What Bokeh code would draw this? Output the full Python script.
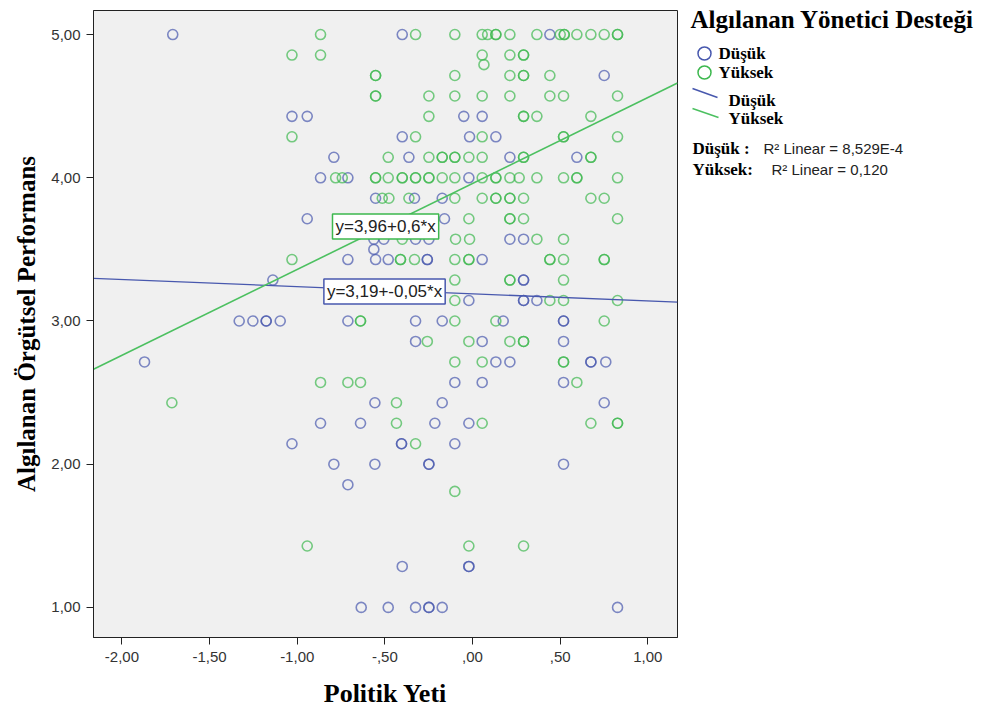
from bokeh.plotting import figure
from bokeh.models import Range1d, FixedTicker, Label
from bokeh.layouts import row
from bokeh.embed import file_html
from bokeh.resources import INLINE

# ---------------- data ----------------
dusuk_x = [-1.71, -1.03, -0.943, -0.401, -0.05, 0.055, -0.401, -0.017, -0.791, -0.363,
           -0.867, -0.711, -0.021, -0.553, -0.331, -0.173, -0.943, -0.16,
           0.441, 0.751, 0.133, 0.213, 0.595,
           -1.139, -1.331, -1.253, -1.177, -1.177, -1.097, -1.871,
           -0.563, -0.506, -0.325, -0.249, -0.563, -0.711, -0.553, -0.481, -0.258, -0.258,
           0.055, -0.021, -0.711, -0.325, -0.173, -0.325, 0.055, -0.101, 0.055,
           -0.557, -0.173, -0.867, -0.639, -0.215, -0.021,
           0.213, 0.291, 0.291, 0.291, 0.291, 0.291, 0.367, 0.175, 0.519, 0.519, 0.519,
           0.133, 0.213, 0.675, 0.675, 0.76, 0.519, 0.751,
           -1.03, -0.405, -0.405, -0.101, -0.791, -0.557, -0.249, -0.249, -0.711,
           -0.401, -0.021, -0.021, -0.635, -0.481, -0.325, -0.249, -0.249, -0.173,
           0.519, 0.827]
dusuk_y = [5.0, 4.429, 4.429, 5.0, 4.429, 4.429, 4.286, 4.286, 4.143, 4.143,
           4.0, 4.0, 4.0, 3.857, 3.857, 3.857, 3.714, 3.714,
           5.0, 4.714, 4.286, 4.143, 4.143,
           3.286, 3.0, 3.0, 3.0, 3.0, 3.0, 2.714,
           3.571, 3.571, 3.571, 3.571, 3.5, 3.429, 3.429, 3.429, 3.429, 3.429,
           3.429, 3.143, 3.0, 3.0, 3.0, 2.857, 2.857, 2.571, 2.571,
           2.429, 2.429, 2.286, 2.286, 2.286, 2.286,
           3.571, 3.571, 3.286, 3.286, 3.143, 3.143, 3.143, 3.0, 3.0, 3.0, 2.857,
           2.714, 2.714, 2.714, 2.714, 2.714, 2.571, 2.429,
           2.143, 2.143, 2.143, 2.143, 2.0, 2.0, 2.0, 2.0, 1.857,
           1.286, 1.286, 1.286, 1.0, 1.0, 1.0, 1.0, 1.0, 1.0,
           2.0, 1.0]

yuksek_x = [-1.03, -0.867, -0.325, -0.101, 0.055, -0.867, 0.055, 0.065,
            -0.553, -0.553, -0.101, -0.553, -0.553, -0.249, -0.101, 0.055,
            -0.249, -1.03, -0.325, 0.055,
            -0.481, -0.249, -0.173, -0.173, -0.101, -0.101, -0.021, 0.055,
            -0.781, -0.743, -0.553, -0.553, -0.481, -0.401, -0.401, -0.325, -0.325,
            -0.249, -0.249, -0.173, -0.101, 0.055,
            -0.515, -0.477, -0.363, -0.101, 0.055, -0.021,
            0.086, 0.133, 0.133, 0.213, 0.367, 0.50, 0.523, 0.523, 0.595, 0.675, 0.751,
            0.827, 0.827,
            0.213, 0.291, 0.291, 0.213, 0.291, 0.291, 0.441,
            0.213, 0.441, 0.519, 0.827, 0.291, 0.291, 0.367, 0.675,
            0.519, 0.519, 0.827, 0.291, 0.291, 0.675, 0.675,
            0.133, 0.133, 0.213, 0.266, 0.367, 0.519, 0.595, 0.595, 0.827,
            0.133, 0.133, 0.213, 0.213, 0.291, 0.675, 0.751,
            0.213, 0.213, 0.291, 0.827,
            -1.03, -1.715,
            -0.401, -0.097, -0.017, -0.411, -0.411, -0.331, -0.101, -0.021, -0.021,
            -0.101, -0.101, -0.639, -0.639, -0.101, -0.258, -0.021, -0.101, 0.055,
            -0.867, -0.711, -0.639, -0.434, -0.434, 0.055,
            0.367, 0.519, 0.441, 0.441, 0.519, 0.751, 0.751, 0.213, 0.213, 0.519,
            0.441, 0.519, 0.827, 0.133, 0.751, 0.213, 0.291, 0.291, 0.519, 0.519,
            0.595, 0.675, 0.827, 0.827,
            -0.325, -0.101, -0.943, -0.021, 0.291]
yuksek_y = [4.857, 5.0, 5.0, 5.0, 5.0, 4.857, 4.857, 4.79,
            4.714, 4.714, 4.714, 4.571, 4.571, 4.571, 4.571, 4.571,
            4.429, 4.286, 4.286, 4.286,
            4.143, 4.143, 4.143, 4.143, 4.143, 4.143, 4.143, 4.143,
            4.0, 4.0, 4.0, 4.0, 4.0, 4.0, 4.0, 4.0, 4.0,
            4.0, 4.0, 4.0, 4.0, 4.0,
            3.857, 3.857, 3.857, 3.857, 3.857, 3.714,
            5.0, 5.0, 5.0, 5.0, 5.0, 5.0, 5.0, 5.0, 5.0, 5.0, 5.0,
            5.0, 5.0,
            4.857, 4.857, 4.857, 4.714, 4.714, 4.714, 4.714,
            4.571, 4.571, 4.571, 4.571, 4.429, 4.429, 4.429, 4.429,
            4.286, 4.286, 4.286, 4.143, 4.143, 4.143, 4.143,
            4.0, 4.0, 4.0, 4.0, 4.0, 4.0, 4.0, 4.0, 4.0,
            3.857, 3.857, 3.857, 3.857, 3.857, 3.857, 3.857,
            3.714, 3.714, 3.714, 3.714,
            3.429, 2.429,
            3.571, 3.571, 3.571, 3.429, 3.429, 3.429, 3.429, 3.429, 3.429,
            3.286, 3.143, 3.0, 3.0, 3.0, 2.857, 2.857, 2.714, 2.714,
            2.571, 2.571, 2.571, 2.429, 2.286, 2.286,
            3.571, 3.571, 3.429, 3.429, 3.429, 3.429, 3.429, 3.286, 3.286, 3.286,
            3.143, 3.143, 3.143, 3.0, 3.0, 2.857, 2.857, 2.857, 2.714, 2.714,
            2.571, 2.286, 2.286, 2.286,
            2.143, 1.81, 1.429, 1.429, 1.429]

fit_dusuk = (3.19, -0.05)    # intercept, slope
fit_yuksek = (3.96, 0.6)

x_ticks = [-2.0, -1.5, -1.0, -0.5, 0.0, 0.5, 1.0]
x_tick_labels = ["-2,00", "-1,50", "-1,00", "-,50", ",00", ",50", "1,00"]
y_ticks = [1.0, 2.0, 3.0, 4.0, 5.0]
y_tick_labels = ["1,00", "2,00", "3,00", "4,00", "5,00"]

BLUE = "#4858AE"
GREEN = "#3DB84E"
XMIN, XMAX = -2.162, 1.169
YMIN, YMAX = 0.79, 5.168

# ---------------- main plot ----------------
p = figure(width=682, height=715, output_backend="svg", toolbar_location=None,
           x_range=Range1d(XMIN, XMAX), y_range=Range1d(YMIN, YMAX),
           min_border_left=93, min_border_right=5, min_border_top=10, min_border_bottom=78)
p.background_fill_color = "#F0F0F0"
p.border_fill_color = "white"
p.outline_line_color = "#222222"
p.outline_line_width = 1
p.grid.visible = False

for ax in (p.xaxis[0], p.yaxis[0]):
    ax.axis_line_color = "#222222"
    ax.major_tick_line_color = "#222222"
    ax.major_tick_in = 0
    ax.major_tick_out = 7
    ax.minor_tick_line_color = None
    ax.major_label_text_font = "Liberation Sans"
    ax.major_label_text_font_size = "15px"
    ax.major_label_text_color = "#333333"
    ax.axis_label_text_font = "Liberation Serif"
    ax.axis_label_text_font_style = "bold"
    ax.axis_label_text_color = "black"

p.xaxis.axis_label_text_font_size = "26px"
p.yaxis.axis_label_text_font_size = "25px"
p.xaxis.ticker = FixedTicker(ticks=x_ticks)
p.xaxis.major_label_overrides = dict(zip(x_ticks, x_tick_labels))
p.yaxis.ticker = FixedTicker(ticks=y_ticks)
p.yaxis.major_label_overrides = dict(zip(y_ticks, y_tick_labels))
p.xaxis.axis_label = "Politik Yeti"
p.yaxis.axis_label = "Algılanan Örgütsel Performans"
p.xaxis.major_label_standoff = 7
p.xaxis.axis_label_standoff = 14
p.yaxis.major_label_standoff = 6
p.yaxis.axis_label_standoff = 8

p.scatter(dusuk_x, dusuk_y, marker="circle", size=10, fill_color=None,
          line_color=BLUE, line_width=1.6, line_alpha=0.7)
p.scatter(yuksek_x, yuksek_y, marker="circle", size=10, fill_color=None,
          line_color=GREEN, line_width=1.6, line_alpha=0.7)

lx = [XMIN, XMAX]
p.line(lx, [fit_dusuk[0] + fit_dusuk[1] * v for v in lx], line_color=BLUE, line_width=1.3)
p.line(lx, [fit_yuksek[0] + fit_yuksek[1] * v for v in lx], line_color="#4CC060", line_width=1.6)

p.add_layout(Label(x=-0.496, y=3.66, text="y=3,96+0,6*x", text_align="center",
                   text_baseline="middle", text_font="Liberation Sans", text_font_size="17px",
                   text_color="#222222", background_fill_color="white",
                   border_line_color="#3DB84E", border_line_width=1.5, padding=3))
p.add_layout(Label(x=-0.502, y=3.206, text="y=3,19+-0,05*x", text_align="center",
                   text_baseline="middle", text_font="Liberation Sans", text_font_size="17px",
                   text_color="#222222", background_fill_color="white",
                   border_line_color=BLUE, border_line_width=1.5, padding=3))

# ---------------- legend panel ----------------
# the row aligns this frame with the main frame (page y 10..637), so the
# y range below makes data y equal page y.
lg = figure(width=306, height=715, output_backend="svg", toolbar_location=None,
            title=None, x_axis_location=None, y_axis_location=None,
            x_range=Range1d(0, 306), y_range=Range1d(637, 10),
            min_border_left=0, min_border_right=0, min_border_top=10, min_border_bottom=78)
lg.grid.visible = False
lg.outline_line_color = None
lg.background_fill_color = "white"
lg.border_fill_color = "white"


def lg_label(x, y, text, size, bold=True, font="Liberation Serif", color="black"):
    lg.add_layout(Label(x=x, y=y, text=text, text_font=font,
                        text_font_style="bold" if bold else "normal",
                        text_font_size=size, text_baseline="middle", text_color=color))


lg_label(8, 19, "Algılanan Yönetici Desteği", "25px")
lg.scatter([22], [53], marker="circle", size=13, fill_color=None, line_color=BLUE, line_width=1.5)
lg.scatter([22], [72], marker="circle", size=13, fill_color=None, line_color=GREEN, line_width=1.5)
lg_label(36, 53, "Düşük", "17px")
lg_label(36, 72, "Yüksek", "17px")
lg.line([10, 35], [88, 97], line_color=BLUE, line_width=1.5)
lg.line([10, 36], [108, 117], line_color="#4CC060", line_width=1.5)
lg_label(46, 100, "Düşük", "17px")
lg_label(46, 118, "Yüksek", "17px")
lg_label(10, 148, "Düşük :", "17px")
lg_label(10, 169, "Yüksek:", "17px")
lg_label(81, 148, "R² Linear = 8,529E-4", "15px", bold=False, font="Liberation Sans", color="#222222")
lg_label(89, 169, "R² Linear = 0,120", "15px", bold=False, font="Liberation Sans", color="#222222")

layout = row(p, lg, spacing=0)
open("out.html", "w").write(file_html(layout, INLINE))
